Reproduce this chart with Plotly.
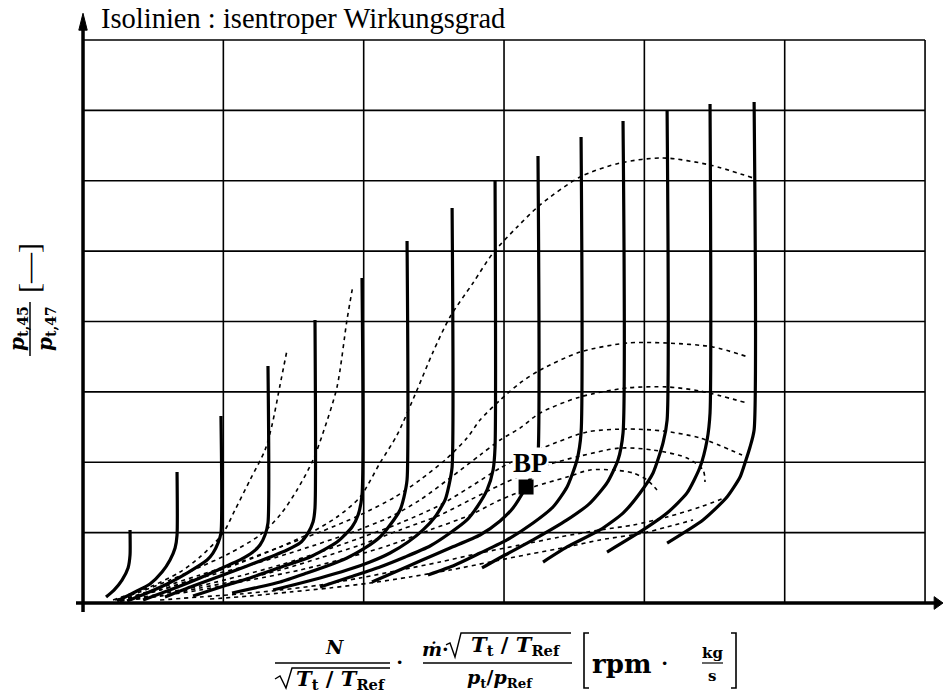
import plotly.graph_objects as go

# Turbine map: corrected speed lines (solid) and isentropic efficiency isolines (dotted)
# x: corrected speed * corrected mass flow, y: pressure ratio p_t45 / p_t47

speed_x = [
    [0.164, 0.221, 0.278, 0.321, 0.335, 0.335],
    [0.242, 0.371, 0.477, 0.563, 0.620, 0.656, 0.670, 0.670],
    [0.314, 0.456, 0.599, 0.741, 0.884, 0.926, 0.962, 0.983, 0.983],
    [0.428, 0.656, 0.834, 0.991, 1.119, 1.211, 1.261, 1.297, 1.318, 1.318],
    [0.584, 0.784, 1.169, 1.454, 1.546, 1.603, 1.639, 1.653, 1.653],
    [0.784, 1.026, 1.190, 1.454, 1.618, 1.810, 1.917, 1.960, 1.988, 1.988],
    [1.062, 1.226, 1.404, 1.596, 1.739, 1.881, 2.010, 2.116, 2.188, 2.259, 2.287, 2.309, 2.309],
    [1.354, 1.525, 1.689, 1.881, 2.045, 2.188, 2.316, 2.423, 2.508, 2.580, 2.608, 2.630, 2.630],
    [1.689, 1.903, 2.116, 2.295, 2.473, 2.615, 2.736, 2.808, 2.879, 2.922, 2.936, 2.936],
    [2.059, 2.223, 2.401, 2.615, 2.829, 2.972, 3.064, 3.157, 3.185, 3.221, 3.242, 3.242],
    [2.458, 2.651, 2.829, 3.021, 3.207, 3.349, 3.449, 3.520, 3.549, 3.549],
    [2.843, 3.007, 3.207, 3.449, 3.613, 3.734, 3.812, 3.848, 3.848],
    [3.278, 3.449, 3.684, 3.848, 3.969, 4.062, 4.133, 4.162, 4.162],
    [3.734, 3.991, 4.162, 4.304, 4.397, 4.447, 4.468, 4.468],
    [4.162, 4.418, 4.589, 4.682, 4.717, 4.753, 4.782, 4.782],
]
speed_y = [
    [1.043, 1.092, 1.163, 1.249, 1.341, 1.519],
    [1.014, 1.078, 1.135, 1.220, 1.306, 1.391, 1.483, 1.931],
    [1.014, 1.071, 1.135, 1.213, 1.306, 1.355, 1.426, 1.497, 2.329],
    [1.021, 1.107, 1.178, 1.249, 1.306, 1.362, 1.412, 1.483, 1.568, 2.684],
    [1.043, 1.121, 1.263, 1.377, 1.426, 1.497, 1.575, 1.675, 3.011],
    [1.050, 1.128, 1.178, 1.270, 1.327, 1.433, 1.540, 1.625, 1.767, 3.309],
    [1.071, 1.107, 1.149, 1.213, 1.263, 1.320, 1.391, 1.469, 1.554, 1.661, 1.753, 1.874, 3.572],
    [1.092, 1.135, 1.178, 1.234, 1.291, 1.355, 1.433, 1.519, 1.611, 1.732, 1.838, 1.966, 3.806],
    [1.114, 1.185, 1.256, 1.327, 1.405, 1.497, 1.590, 1.682, 1.803, 1.945, 2.108, 4.005],
    [1.149, 1.220, 1.298, 1.391, 1.483, 1.583, 1.675, 1.824, 1.880, 1.945, 2.051, 4.176],
    [1.199, 1.270, 1.355, 1.448, 1.568, 1.682, 1.824, 2.016, 2.208, 4.311],
    [1.249, 1.341, 1.448, 1.590, 1.710, 1.853, 2.016, 2.208, 4.424],
    [1.291, 1.398, 1.519, 1.639, 1.782, 1.924, 2.137, 2.300, 4.496],
    [1.362, 1.519, 1.639, 1.782, 1.966, 2.158, 2.350, 4.545],
    [1.426, 1.590, 1.753, 1.895, 1.995, 2.108, 2.229, 4.559],
]

eta_x = [
    [0.264, 0.549, 0.834, 1.119, 1.404, 1.618, 1.810, 1.974, 2.116, 2.238, 2.380, 2.494,
     2.615, 2.779, 2.922, 3.093, 3.257, 3.542, 3.827, 4.133, 4.468, 4.774],
    [0.214, 0.335, 0.477, 0.691, 0.834, 0.998, 1.083, 1.190, 1.297, 1.347, 1.404, 1.454],
    [0.228, 0.406, 0.620, 0.834, 1.048, 1.261, 1.404, 1.525, 1.639, 1.710, 1.810, 1.881, 1.924],
    [0.264, 0.549, 0.834, 1.119, 1.404, 1.689, 1.974, 2.223, 2.401, 2.580, 2.736, 2.829,
     2.972, 3.114, 3.257, 3.542, 3.877, 4.162, 4.489, 4.739],
    [0.264, 0.549, 0.834, 1.190, 1.546, 1.903, 2.188, 2.401, 2.615, 2.829, 2.972, 3.114,
     3.257, 3.542, 3.877, 4.162, 4.397, 4.732],
    [0.264, 0.549, 0.834, 1.119, 1.404, 1.689, 1.974, 2.259, 2.544, 2.758, 2.972, 3.114,
     3.292, 3.592, 3.877, 4.133, 4.397, 4.696],
    [0.264, 0.549, 0.834, 1.119, 1.404, 1.689, 1.974, 2.259, 2.544, 2.758, 2.972, 3.114,
     3.306, 3.542, 3.827, 4.062, 4.304, 4.418, 4.432],
    [0.264, 0.549, 0.834, 1.190, 1.546, 1.903, 2.188, 2.473, 2.758, 2.972, 3.207, 3.449,
     3.613, 3.777, 3.919, 4.019, 4.090],
    [0.549, 0.834, 1.119, 1.404, 1.689, 1.974, 2.259, 2.544, 2.829, 3.114, 3.399, 3.684,
     3.919, 4.162, 4.397, 4.589],
    [0.905, 1.190, 1.475, 1.760, 2.045, 2.330, 2.615, 2.900, 3.185, 3.449, 3.684, 3.991,
     4.162, 4.347],
]
eta_y = [
    [1.021, 1.092, 1.185, 1.284, 1.398, 1.497, 1.611, 1.753, 1.995, 2.194, 2.513, 2.783,
     3.032, 3.274, 3.487, 3.671, 3.828, 4.027, 4.126, 4.162, 4.112, 4.020],
    [1.021, 1.064, 1.114, 1.220, 1.327, 1.497, 1.661, 1.874, 2.087, 2.265, 2.549, 2.798],
    [1.021, 1.078, 1.163, 1.256, 1.355, 1.483, 1.625, 1.803, 2.016, 2.208, 2.535, 3.011, 3.259],
    [1.021, 1.107, 1.199, 1.291, 1.398, 1.504, 1.625, 1.753, 1.874, 2.016, 2.172, 2.300,
     2.442, 2.563, 2.655, 2.783, 2.847, 2.847, 2.819, 2.748],
    [1.021, 1.092, 1.178, 1.270, 1.377, 1.497, 1.611, 1.732, 1.888, 2.051, 2.158, 2.243,
     2.350, 2.464, 2.528, 2.535, 2.506, 2.421],
    [1.014, 1.064, 1.121, 1.192, 1.270, 1.362, 1.462, 1.568, 1.696, 1.824, 1.959, 2.030,
     2.108, 2.215, 2.236, 2.222, 2.172, 2.051],
    [1.014, 1.050, 1.107, 1.163, 1.234, 1.320, 1.412, 1.519, 1.625, 1.732, 1.838, 1.902,
     1.980, 2.044, 2.101, 2.087, 2.030, 1.945, 1.860],
    [1.014, 1.050, 1.092, 1.163, 1.234, 1.327, 1.412, 1.519, 1.625, 1.732, 1.824, 1.895,
     1.945, 1.945, 1.924, 1.874, 1.803],
    [1.021, 1.043, 1.064, 1.092, 1.128, 1.178, 1.234, 1.291, 1.355, 1.412, 1.469, 1.519,
     1.554, 1.611, 1.682, 1.753],
    [1.028, 1.050, 1.078, 1.107, 1.142, 1.185, 1.234, 1.291, 1.348, 1.398, 1.448, 1.497,
     1.540, 1.590],
]

# design point
bp_x = [3.157]
bp_y = [1.824]
bp_label = "BP"

# grid
grid_x = [1, 2, 3, 4, 5, 6]
grid_y = [1.5, 2.0, 2.5, 3.0, 3.5, 4.0, 4.5, 5.0]
x_min, x_max = 0.0, 6.0
y_min, y_max = 1.0, 5.0

W, H = 943, 700
ML, MR, MT, MB = 76, 0, 13, 88
XR = [-0.05, 6.128]
YR = [0.936, 5.192]

fig = go.Figure()

for xs, ys in zip(eta_x, eta_y):
    fig.add_trace(go.Scatter(
        x=xs, y=ys, mode="lines", hoverinfo="skip",
        line=dict(color="black", width=1.6, dash="4px,4px", shape="spline", smoothing=0.8),
    ))

for xs, ys in zip(speed_x, speed_y):
    fig.add_trace(go.Scatter(
        x=xs, y=ys, mode="lines", hoverinfo="skip",
        line=dict(color="black", width=3.2, shape="spline", smoothing=0.6),
    ))

fig.add_trace(go.Scatter(
    x=bp_x, y=bp_y, mode="markers", hoverinfo="skip",
    marker=dict(symbol="square", size=15, color="black"),
))

shapes = []
for gx in grid_x:
    shapes.append(dict(type="line", xref="x", yref="y", x0=gx, x1=gx, y0=y_min, y1=y_max,
                       line=dict(color="black", width=1.6), layer="below"))
for gy in grid_y:
    shapes.append(dict(type="line", xref="x", yref="y", x0=x_min, x1=x_max, y0=gy, y1=gy,
                       line=dict(color="black", width=1.6), layer="below"))

# axes with arrow heads
shapes.append(dict(type="line", xref="x", yref="y", x0=XR[0], x1=6.075, y0=y_min, y1=y_min,
                   line=dict(color="black", width=3.5)))
shapes.append(dict(type="path", xref="x", yref="y",
                   path="M 6.128,1 L 6.065,1.045 L 6.065,0.955 Z",
                   fillcolor="black", line=dict(color="black", width=1)))
shapes.append(dict(type="line", xref="x", yref="y", x0=x_min, x1=x_min, y0=YR[0], y1=5.08,
                   line=dict(color="black", width=3.5)))
shapes.append(dict(type="path", xref="x", yref="y",
                   path="M 0,5.19 L -0.03,5.07 L 0.03,5.07 Z",
                   fillcolor="black", line=dict(color="black", width=1)))

PW = W - ML - MR
PH = H - MT - MB


def at(px, py):
    return dict(x=(px - ML) / PW, y=(H - MB - py) / PH, xref="paper", yref="paper")


def stroke(points, w=1.5):
    """Polyline in paper space given page positions."""
    pts = [at(px, py) for px, py in points]
    path = "M " + " L ".join(f"{p['x']:.5f},{p['y']:.5f}" for p in pts)
    return dict(type="path", xref="paper", yref="paper", path=path,
                line=dict(color="black", width=w))


SERIF = "Liberation Serif"
BOLD = "DejaVu Serif"
ann = []


def label(px, py, text, size, family=SERIF, angle=0, xanchor="center"):
    d = at(px, py)
    d.update(text=text, showarrow=False, xanchor=xanchor, yanchor="middle",
             textangle=angle, font=dict(family=family, size=size, color="black"))
    ann.append(d)


T_RATIO = ("<b><i>T</i></b><sub><b>t</b></sub><b> / </b>"
           "<b><i>T</i></b><sub><b>Ref</b></sub>")

# title
label(99, 19, "Isolinien : isentroper Wirkungsgrad", 28.5, xanchor="left")

# BP label
ann.append(dict(x=3.19, y=1.995, xref="x", yref="y", text="<b>BP</b>", showarrow=False,
                font=dict(family=SERIF, size=27, color="black"), bgcolor="white", borderpad=0))

# y-axis label: p_t,45 / p_t,47 [—]
label(18, 329, "<b><i>p</i></b><sub><b>t,45</b></sub>", 20, family=BOLD, angle=-90)
label(46, 329, "<b><i>p</i></b><sub><b>t,47</b></sub>", 20, family=BOLD, angle=-90)
shapes.append(stroke([(30, 302), (30, 356)]))
label(28, 268, "[—]", 30, family=SERIF, angle=-90)

# x-axis label: first fraction
label(334, 647, "<b><i>N</i></b>", 19, family=BOLD)
shapes.append(stroke([(275, 663), (390, 663)]))
shapes.append(stroke([(275, 679), (280, 676), (286, 688), (292, 668), (390, 668)], 1.4))
label(341, 679, T_RATIO, 21, family=BOLD)
label(399, 661, "<b>·</b>", 22, family=SERIF)
# second fraction
label(435, 649, "<b><i>ṁ</i>·</b>", 19, family=BOLD)
shapes.append(stroke([(446, 645), (450, 643), (455, 657), (461, 633), (571, 633)], 1.4))
label(516, 645, T_RATIO, 21, family=BOLD)
shapes.append(stroke([(423, 663), (572, 663)]))
label(500, 678, "<b><i>p</i></b><sub><b>t</b></sub><b>/</b><b><i>p</i></b><sub><b>Ref</b></sub>", 19, family=BOLD)
# unit
shapes.append(stroke([(589, 633), (584, 633), (584, 688), (589, 688)], 1.6))
label(621, 664, "<b>rpm</b>", 26, family=BOLD)
label(664, 662, "<b>·</b>", 22, family=SERIF)
label(712, 653, "<b>kg</b>", 15, family=BOLD)
shapes.append(stroke([(702, 663), (723, 663)], 1.2))
label(712, 676, "<b>s</b>", 15, family=BOLD)
shapes.append(stroke([(731, 633), (736, 633), (736, 688), (731, 688)], 1.6))

fig.update_layout(
    width=W, height=H,
    margin=dict(l=ML, r=MR, t=MT, b=MB, pad=0),
    paper_bgcolor="white", plot_bgcolor="white",
    showlegend=False,
    xaxis=dict(range=XR, visible=False, showgrid=False, zeroline=False),
    yaxis=dict(range=YR, visible=False, showgrid=False, zeroline=False),
    shapes=shapes,
    annotations=ann,
)

fig.write_html("out.html")
